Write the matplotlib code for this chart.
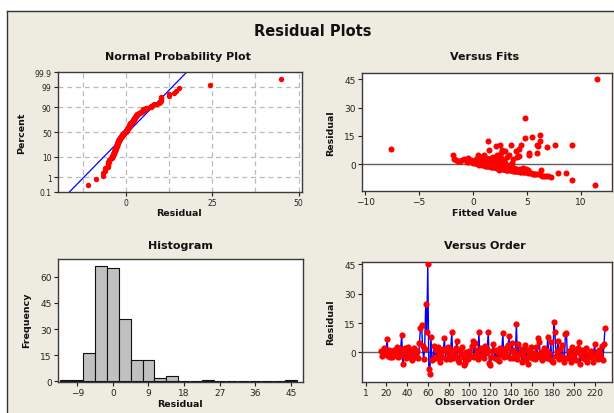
"""
Four-in-one residual diagnostics for the regression fit:
normal probability plot, residuals versus fitted values,
histogram of residuals, and residuals versus observation order.
"""

from statistics import NormalDist

import numpy as np
import matplotlib
matplotlib.use("Agg")
import matplotlib.pyplot as plt
from matplotlib.patches import Rectangle
from matplotlib.lines import Line2D


# ─────────────────────────────────────────────────────────────────
# 1. Data (observations 15..230)
# ─────────────────────────────────────────────────────────────────

first_obs = 15

residuals = [
    0.5, -1.9, -0.5, 2.5, -1.0, 0.8, 7.0, -2.0, 1.2, -2.5,      # 15-24
    0.3, -2.4, -1.8, 1.0, -0.7, 2.8, -2.2, 0.6, -1.6, 1.8,      # 25-34
    9.0, -6.0, -1.2, 2.2, -2.6, 0.4, 3.0, -1.6, 1.4, -2.8,      # 35-44
    -3.8, 0.9, 2.4, -2.1, -0.3, 0.6, -2.9, 5.0, 12.5, 14.0,     # 45-54
    3.2, -3.5, 2.0, 24.5, 10.2, 45.0, -8.5, -10.8, 8.0, -4.0,   # 55-64
    -3.4, 3.4, -2.2, 1.0, -3.0, 2.6, -1.4, -4.8, 0.2, -2.4,     # 65-74
    1.9, 7.2, -3.2, 0.7, 2.9, -1.9, -3.6, 1.3, 10.2, -2.7,      # 75-84
    0.1, -1.1, 2.3, 6.0, -3.9, -5.0, 1.1, -0.9, 2.7, -2.3,      # 85-94
    -6.5, -5.2, 0.0, -2.2, -3.1, 0.5, -1.7, 3.3, 6.0, -2.5,     # 95-104
    5.0, -0.6, 1.4, -3.3, 10.2, -2.0, 2.1, -1.3, 0.8, -2.9,     # 105-114
    3.1, -0.4, 1.9, 10.2, -5.2, -6.6, -2.1, 0.9, 4.2, -2.6,     # 115-124
    1.2, -3.5, 0.4, -4.2, 2.2, -1.4, 1.0, 9.8, -2.4, -0.2,      # 125-134
    2.5, -1.8, 3.6, 8.2, -2.8, 0.6, 5.0, -3.0, 1.0, -1.0,       # 135-144
    14.5, -3.4, 4.3, -0.8, 2.0, -5.0, 0.3, -2.2, 3.9, -3.7,     # 145-154
    1.4, -6.0, -1.6, 0.7, 2.6, -2.7, -2.0, -0.5, -3.2, 3.0,     # 155-164
    -1.2, 7.3, 5.1, -2.3, 0.2, -3.8, 2.4, -1.4, 1.3, -2.9,      # 165-174
    7.7, -0.1, -3.3, 5.1, -4.6, -4.8, 15.5, 10.2, -2.0, 0.5,    # 175-184
    6.0, -3.6, 1.7, -1.9, 3.8, -2.5, -4.7, 9.5, 10.0, -3.0,     # 185-194
    0.9, -1.1, -5.1, 2.8, -0.8, -2.6, 1.2, -3.9, 0.0, 2.1,      # 195-204
    5.1, -6.0, -1.7, 1.1, -2.8, 0.4, -3.4, 2.3, -5.0, -0.7,     # 205-214
    -0.6, -2.3, 0.8, -4.9, -1.3, 4.4, -2.1, 0.3, -3.1, 1.2,     # 215-224
    -1.0, -2.6, 3.2, -4.0, 4.4, 12.5,                           # 225-230
]

fitted = [
    1.2, 2.5, 1.3, 0.4, 2.1, 0.3, 3.0, 2.6, 0.9, 3.0,
    1.8, 3.4, 2.2, -0.4, 1.1, 1.5, 2.7, 2.3, 2.0, -1.2,
    6.9, 6.6, 1.6, 0.8, 3.3, 0.2, 2.6, 3.1, 1.9, 3.2,
    4.4, 0.5, -1.6, 2.5, 0.6, 3.0, 3.6, 5.2, 6.2, 4.85,
    1.7, 4.2, 0.9, 4.85, 9.2, 11.5, 9.2, 11.3, -7.6, 4.6,
    3.9, 2.1, 2.6, 1.4, 3.5, -0.8, 1.8, 5.4, 0.7, 4.1,
    1.0, 4.0, 3.7, 2.8, 0.3, 2.3, 4.3, 0.1, 7.6, 3.1,
    0.9, 1.5, 2.4, 5.9, 4.5, 5.8, 1.7, 1.2, -1.8, 2.8,
    7.0, 6.1, 0.5, 3.8, 3.6, 2.0, 2.1, 1.2, 5.2, 2.9,
    1.0, 1.0, 0.4, 3.9, 5.9, 4.6, -0.2, 1.7, 3.6, 3.3,
    2.6, 0.8, 1.3, 3.5, 5.9, 7.2, 2.4, 0.0, 4.3, 3.0,
    2.2, 4.0, 1.5, 4.8, 0.6, 2.6, -0.6, 2.1, 2.9, 1.9,
    1.8, 3.5, 3.2, 4.3, 3.1, 1.1, 2.2, 5.1, 0.2, 1.4,
    5.5, 3.8, 0.9, 2.7, -1.0, 5.6, 2.4, 2.6, 4.1, 4.2,
    1.6, 6.4, 1.9, 0.8, 1.4, 3.4, 2.3, 3.4, 3.6, 0.5,
    1.6, 1.5, -1.9, 4.9, 1.2, 4.3, 2.9, 2.0, 0.6, 3.2,
    2.7, 1.0, 6.3, 3.3, 5.1, 7.9, 6.2, 2.5, 2.4, 0.3,
    2.6, 4.1, -1.4, 2.2, 1.9, 4.4, 8.6, 6.0, 4.5, 3.4,
    1.3, 2.8, 5.7, 3.7, 1.7, 3.8, 0.7, 4.7, 1.9, 2.0,
    0.5, 6.8, 2.0, 1.8, 4.6, 0.4, 3.7, 1.1, 6.2, 1.8,
    2.2, 2.7, 2.6, 5.3, 3.0, 4.2, 2.8, 1.6, 2.4, 2.4,
    1.3, 3.0, -0.5, 4.4, 4.2, 1.4,
]

pct_ticks = [0.1, 1, 10, 50, 90, 99, 99.9]
pct_labels = ["0.1", "1", "10", "50", "90", "99", "99.9"]
hist_ticks = [-9, 0, 9, 18, 27, 36, 45]
order_ticks = [1, 20, 40, 60, 80, 100, 120, 140, 160, 180, 200, 220]


# ─────────────────────────────────────────────────────────────────
# 2. Styling helpers
# ─────────────────────────────────────────────────────────────────

W, H = 614, 414
PANEL_BG = "#EEEBE1"
EDGE = "#3A3A3A"
RED = "#FF0000"
BLUE = "#0000FF"
plt.rcParams["font.family"] = "DejaVu Sans"


def box(left, top, right, bottom):
    """Axes rectangle from pixel edges."""
    return [left / W, 1 - bottom / H, (right - left) / W, (bottom - top) / H]


def put(fig, x, y, s, size, rot=0):
    fig.text(x / W, 1 - y / H, s, ha="center", va="center", fontsize=size,
             fontweight="bold", rotation=rot, color="#111111")


def style_axes(ax, labelsize=6.5):
    ax.set_facecolor("white")
    for sp in ax.spines.values():
        sp.set_color(EDGE)
        sp.set_linewidth(1.0)
    ax.tick_params(direction="out", length=3, width=0.8, colors="#222222",
                   labelsize=labelsize, pad=1.5)


# ─────────────────────────────────────────────────────────────────
# 3. Figure
# ─────────────────────────────────────────────────────────────────

res = np.array(residuals)
fit = np.array(fitted)
order = np.arange(first_obs, first_obs + len(res))

fig = plt.figure(figsize=(W / 100, H / 100), dpi=100)
fig.patches.append(Rectangle((7 / W, 0), 1 - 7 / W, 1 - 12 / H,
                             transform=fig.transFigure, facecolor=PANEL_BG,
                             edgecolor="none", zorder=-5))
fig.lines.append(Line2D([7 / W, 7 / W], [0, 1 - 12 / H], transform=fig.transFigure,
                        color="#333333", lw=1.0))
fig.lines.append(Line2D([7 / W, 1], [1 - 12 / H, 1 - 12 / H], transform=fig.transFigure,
                        color="#333333", lw=1.0))

put(fig, 313, 31, "Residual Plots", 10.5)

# --- Normal probability plot -------------------------------------
nd = NormalDist()
ax1 = fig.add_axes(box(58, 73, 302, 193))
style_axes(ax1, 5.5)
r_sorted = np.sort(res)
n = len(r_sorted)
ranks = (np.arange(1, n + 1) - 0.3) / (n + 0.4)
z = np.array([nd.inv_cdf(p) for p in ranks])
mu, sd = r_sorted.mean(), r_sorted.std(ddof=1)
zlo, zhi = nd.inv_cdf(0.001), nd.inv_cdf(0.999)

for gx in [-12.5, 0, 12.5, 25, 37.5, 50]:
    ax1.axvline(gx, color="#BBBBBB", lw=0.9, ls=(0, (4, 3)), zorder=0)
for gp in [1, 10, 50, 90, 99]:
    ax1.axhline(nd.inv_cdf(gp / 100), color="#BBBBBB", lw=0.9, ls=(0, (4, 3)), zorder=0)

zz = np.array([zlo - 1, zhi + 1])
ax1.plot(mu + sd * zz, zz, color=BLUE, lw=0.9, zorder=2)
ax1.scatter(r_sorted, z, s=15, color=RED, lw=0, zorder=3)
ax1.set_xlim(-19.6, 51)
ax1.set_ylim(zlo, zhi)
ax1.set_xticks([0, 25, 50])
ax1.set_yticks([nd.inv_cdf(p / 100) for p in pct_ticks])
ax1.set_yticklabels(pct_labels)
put(fig, 178, 57, "Normal Probability Plot", 8)
put(fig, 22, 133, "Percent", 6.8, rot=90)
put(fig, 179, 214, "Residual", 6.8)

# --- Versus fits --------------------------------------------------
ax2 = fig.add_axes(box(362, 74, 612, 192))
style_axes(ax2)
ax2.axhline(0, color="#606060", lw=1.0, zorder=1)
ax2.scatter(fit, res, s=19, color=RED, lw=0, zorder=3)
ax2.set_xlim(-10.3, 12.9)
ax2.set_ylim(-14.2, 48.4)
ax2.set_xticks([-10, -5, 0, 5, 10])
ax2.set_yticks([0, 15, 30, 45])
put(fig, 485, 57, "Versus Fits", 8)
put(fig, 331, 133, "Residual", 6.8, rot=90)
put(fig, 485, 214, "Fitted Value", 6.8)

# --- Histogram ----------------------------------------------------
ax3 = fig.add_axes(box(58, 260, 303, 383))
style_axes(ax3)
edges = np.arange(-13.5, 48, 3)
counts, _ = np.histogram(res, bins=edges)
ax3.bar(edges[:-1], counts, width=3, align="edge", color="#C0C0C0",
        edgecolor="#111111", linewidth=0.8, zorder=2)
ax3.set_xlim(-13.9, 48.1)
ax3.set_ylim(-0.4, 70.2)
ax3.set_xticks(hist_ticks)
ax3.set_yticks([0, 15, 30, 45, 60])
put(fig, 180, 246, "Histogram", 8)
put(fig, 27, 320, "Frequency", 6.8, rot=90)
put(fig, 180, 405, "Residual", 6.8)

# --- Versus order -------------------------------------------------
ax4 = fig.add_axes(box(362, 263, 612, 383))
style_axes(ax4)
ax4.axhline(0, color="#606060", lw=1.0, zorder=1)
ax4.plot(order, res, color=BLUE, lw=1.0, zorder=2)
ax4.plot(order, res, ls="none", marker="o", ms=4.5, mfc=RED, mec=RED, mew=0, zorder=3)
ax4.set_xlim(-3.1, 236.7)
ax4.set_ylim(-15.1, 46.2)
ax4.set_xticks(order_ticks)
ax4.set_yticks([0, 15, 30, 45])
put(fig, 485, 246, "Versus Order", 8)
put(fig, 331, 322, "Residual", 6.8, rot=90)
put(fig, 485, 403, "Observation Order", 6.8)

fig.savefig("out.png", dpi=100)
